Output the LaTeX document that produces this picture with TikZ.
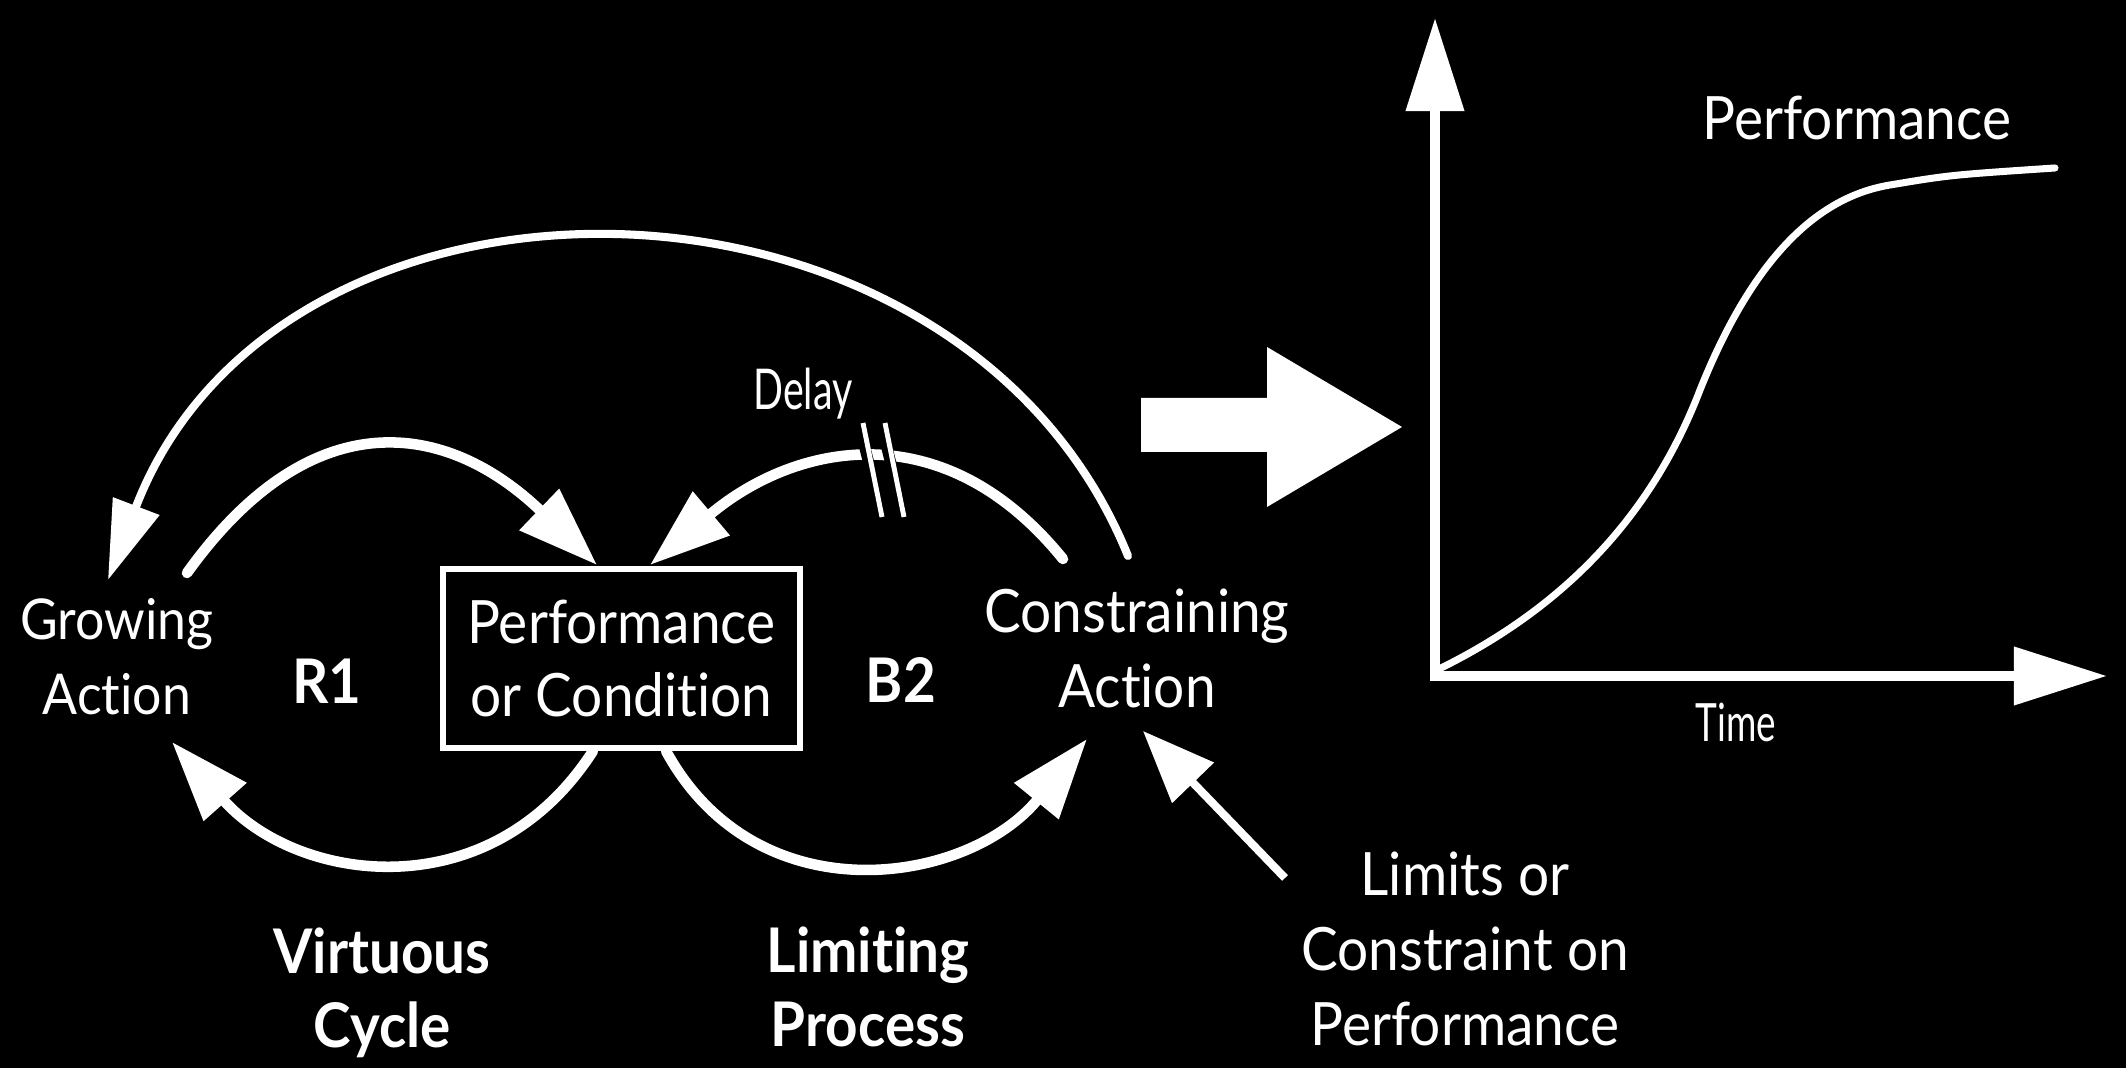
\documentclass[tikz,border=0pt]{standalone}
\usepackage{fontspec}
\setmainfont{Lato}[FakeStretch=0.92, Ligatures={NoCommon}]
\newfontfamily\condfont{Lato}[FakeStretch=0.7, Ligatures={NoCommon}]
\usetikzlibrary{arrows.meta}
\begin{document}
\begin{tikzpicture}[x=0.01cm,y=-0.01cm,
  txt/.style={text=white, inner sep=0pt, align=center, font=\fontsize{17}{21.3}\selectfont},
  growtxt/.style={txt, font=\fontsize{16}{21.3}\selectfont},
  boldtxt/.style={text=white, inner sep=0pt, align=center, font=\bfseries\fontsize{17.5}{21}\selectfont},
  condtxt/.style={text=white, inner sep=0pt, font=\condfont\fontsize{16}{19}\selectfont},
  boxnode/.style={txt, draw=white, line width=1.7pt, minimum width=3.57cm, minimum height=1.79cm},
  loop/.style={draw=white, line width=3pt, line cap=round, -{Triangle[length=22.8pt,width=15.6pt]}},
  bigarc/.style={draw=white, line width=2.3pt, line cap=round, -{Triangle[length=22.5pt,width=13.6pt]}},
  limarrow/.style={draw=white, line width=2.3pt, -{Triangle[length=20.5pt,width=16pt]}},
  axis/.style={draw=white, line width=2.85pt, -{Triangle[length=26.5pt,width=16pt]}},
  curveline/.style={draw=white, line width=2pt, line cap=round},
  delaymark/.style={draw=white, line width=1.4pt},
  delaygap/.style={draw=black, line width=3.2pt}
]
\fill[black] (0,0) rectangle (2126,1068);
\useasboundingbox (0,0) rectangle (2126,1068);

% ---------- nodes ----------
\node[growtxt, anchor=north] (grow) at (117,598) {Growing\\Action};
\node[boxnode] (box) at (621.5,658.5) {Performance\\[-0.6pt]or Condition};
\node[txt, anchor=north] (cons) at (1137,588) {Constraining\\Action};
\node[boldtxt] (r1) at (327,681) {R1};
\node[boldtxt] (b2) at (901,680) {B2};
\node[condtxt, anchor=base] (delay) at (803,410) {Delay};
\node[boldtxt, anchor=north] (virt) at (382,927) {Virtuous\\Cycle};
\node[boldtxt, anchor=north] (limp) at (868,926) {Limiting\\Process};
\node[txt, anchor=north] (limits) at (1465,851) {Limits or\\Constraint on\\Performance};
\node[txt, anchor=base] (perflbl) at (1857,140) {Performance};
\node[condtxt, anchor=base, font=\condfont\fontsize{15}{18}\selectfont] (time) at (1736,742) {Time};

% ---------- connector end points ----------
\coordinate (r1up-s) at (187,573);
\coordinate (r1up-e) at (597,565);
\coordinate (b2up-s) at (1063,559);
\coordinate (b2up-e) at (650,565);
\coordinate (r1lo-s) at (593,751);
\coordinate (r1lo-e) at (172,742);
\coordinate (b2lo-s) at (666,751);
\coordinate (b2lo-e) at (1087,739);
\coordinate (big-s) at (1128,556);
\coordinate (big-e) at (108,580);
\coordinate (lim-s) at (1285,878);
\coordinate (lim-e) at (1143,731);

% ---------- loops ----------
\draw[loop] (r1up-s) .. controls (311,400) and (446,420) .. (r1up-e);
\draw[loop] (b2up-s) .. controls (943,411) and (795,443) .. (b2up-e);
\draw[loop] (r1lo-s) .. controls (490,911) and (297,883) .. (r1lo-e);
\draw[loop] (b2lo-s) .. controls (757,918) and (968,885) .. (b2lo-e);
\draw[bigarc] (big-s) .. controls (960,140) and (280,130) .. (big-e);
\draw[limarrow] (lim-s) -- (lim-e);

% ---------- delay marks ----------
\foreach \dx in {0,22} {
  \draw[delaygap] (863+\dx,440) -- (878+\dx,500);
  \draw[delaymark] (863+\dx,423) -- (882+\dx,517);
}

% ---------- block arrow ----------
\fill[white] (1141,398) -- (1267,398) -- (1267,347) -- (1402,427) -- (1267,507) -- (1267,452) -- (1141,452) -- cycle;

% ---------- graph ----------
\coordinate (ybot) at (1435,681);
\coordinate (ytip) at (1435,18);
\coordinate (xleft) at (1430,676);
\coordinate (xtip) at (2107,676);
\draw[axis] (ybot) -- (ytip);
\draw[axis] (xleft) -- (xtip);
\draw[curveline] (1437,670) .. controls (1560,610) and (1650,520) .. (1700,390)
   .. controls (1760,240) and (1830,195) .. (1890,185)
   .. controls (1950,175) .. (2055,168);
\end{tikzpicture}
\end{document}
